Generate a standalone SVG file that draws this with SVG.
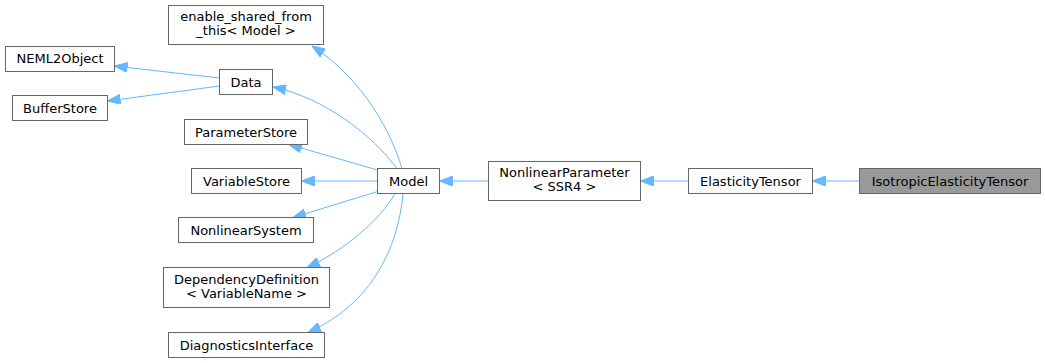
<svg xmlns="http://www.w3.org/2000/svg" width="1045" height="363" viewBox="0 0 1045 363">
  <style>
    .node rect { fill: #ffffff; stroke: #666666; stroke-width: 1; }
    .node.current rect { fill: #999999; }
    .node text { font-family: "DejaVu Sans", "Noto Sans", sans-serif; font-size: 13px; fill: #000000; text-anchor: middle; }
    .edge { fill: none; stroke: #63b8ff; stroke-width: 1; marker-end: url(#arrow); }
  </style>
  <defs>
    <marker id="arrow" viewBox="0 0 13 10" refX="13" refY="5" markerWidth="13" markerHeight="10" markerUnits="userSpaceOnUse" orient="auto">
      <path d="M13,5 L0,0 L0,10 Z" fill="#63b8ff" stroke="#63b8ff" stroke-width="1"/>
    </marker>
  </defs>
  <rect width="1045" height="363" fill="#ffffff"/>

  <!-- inheritance edges (derived -> base) -->
  <g id="edges">
    <path class="edge" d="M219.5,78 L114.5,66"/>
    <path class="edge" d="M219.5,86 L107.5,101"/>
    <path class="edge" d="M397,168.5 C372,135 325,98 273,87"/>
    <path class="edge" d="M402,168.5 C392,135 365,80 312,46"/>
    <path class="edge" d="M377.5,170 L289,144.5"/>
    <path class="edge" d="M377.5,181 L301.5,181"/>
    <path class="edge" d="M377.5,191.5 L293,217.5"/>
    <path class="edge" d="M395,193.5 C380,220 345,250 307,267.5"/>
    <path class="edge" d="M403,193.5 C398,250 370,305 308,332.5"/>
    <path class="edge" d="M488.5,181 L439.5,181"/>
    <path class="edge" d="M688.5,181 L640.5,181"/>
    <path class="edge" d="M859.5,181 L812.5,181"/>
  </g>

  <g id="node-enable-shared" class="node">
    <rect x="168.5" y="5.5" width="155" height="39"/>
    <text x="246" y="21">enable_shared_from</text>
    <text x="246" y="35">_this&lt; Model &gt;</text>
  </g>
  <g id="node-neml2object" class="node">
    <rect x="5.5" y="46.5" width="109" height="25"/>
    <text x="60" y="63">NEML2Object</text>
  </g>
  <g id="node-data" class="node">
    <rect x="219.5" y="69.5" width="53" height="25"/>
    <text x="246" y="86.5">Data</text>
  </g>
  <g id="node-bufferstore" class="node">
    <rect x="12.5" y="95.5" width="95" height="25"/>
    <text x="60" y="112.5">BufferStore</text>
  </g>
  <g id="node-parameterstore" class="node">
    <rect x="184.5" y="119.5" width="123" height="25"/>
    <text x="246" y="136.5">ParameterStore</text>
  </g>
  <g id="node-variablestore" class="node">
    <rect x="191.5" y="168.5" width="110" height="25"/>
    <text x="246.5" y="185.5">VariableStore</text>
  </g>
  <g id="node-model" class="node">
    <rect x="377.5" y="168.5" width="62" height="25"/>
    <text x="408.5" y="185.5">Model</text>
  </g>
  <g id="node-nonlinearsystem" class="node">
    <rect x="178.5" y="217.5" width="135" height="25"/>
    <text x="246" y="234.5">NonlinearSystem</text>
  </g>
  <g id="node-dependencydefinition" class="node">
    <rect x="163.5" y="267.5" width="166" height="40"/>
    <text x="246.5" y="284">DependencyDefinition</text>
    <text x="246.5" y="298">&lt; VariableName &gt;</text>
  </g>
  <g id="node-diagnosticsinterface" class="node">
    <rect x="168.5" y="332.5" width="156" height="25"/>
    <text x="246.5" y="349.5">DiagnosticsInterface</text>
  </g>
  <g id="node-nonlinearparameter" class="node">
    <rect x="488.5" y="161.5" width="152" height="39"/>
    <text x="564.5" y="177">NonlinearParameter</text>
    <text x="564.5" y="191">&lt; SSR4 &gt;</text>
  </g>
  <g id="node-elasticitytensor" class="node">
    <rect x="688.5" y="168.5" width="124" height="25"/>
    <text x="750.5" y="185.5">ElasticityTensor</text>
  </g>
  <g id="node-isotropicelasticitytensor" class="node current">
    <rect x="859.5" y="168.5" width="181" height="25"/>
    <text x="950" y="185.5">IsotropicElasticityTensor</text>
  </g>
</svg>
